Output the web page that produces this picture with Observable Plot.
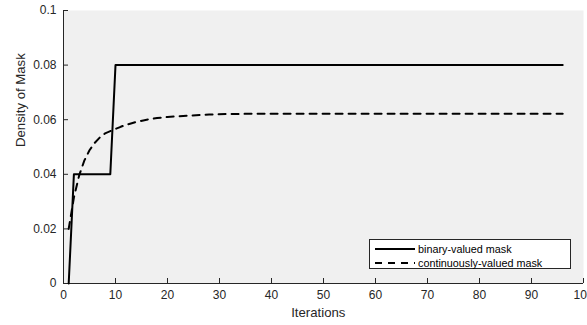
<!DOCTYPE html>
<html>
<head>
<meta charset="utf-8">
<script src="https://cdn.jsdelivr.net/npm/d3@7"></script>
<script src="https://cdn.jsdelivr.net/npm/@observablehq/plot@0.6"></script>
<style>
  html, body { margin: 0; padding: 0; background: #fff; }
  #wrap { position: relative; width: 587px; height: 325px; overflow: hidden; font-family: "Liberation Sans", Arial, sans-serif; }
  #legend { position: absolute; left: 369px; top: 239px; width: 200px; height: 28px; background: #fff; border: 1px solid #262626; font-size: 10.8px; color: #000; }
  .row { position: absolute; left: 0; height: 14px; display: flex; align-items: center; }
  .row svg { margin-left: 5px; margin-right: 3px; }
</style>
</head>
<body>
<div id="wrap"></div>
<script>
// binary-valued mask
const binaryIter = [1, 2, 9, 10, 96];
const binaryDensity = [0, 0.04, 0.04, 0.08, 0.08];

// continuously-valued mask
const contIter = [1, 2, 3, 4, 5, 6, 7, 8, 9, 10, 11, 12, 14, 16, 18, 20, 24, 28, 32, 40, 50, 60, 70, 80, 96];
const contDensity = [0.0200, 0.0315, 0.0395, 0.0450, 0.0488, 0.0515, 0.0535, 0.0550, 0.0558, 0.0566, 0.0574, 0.0581, 0.0592, 0.0600, 0.0606, 0.0610, 0.0615, 0.0619, 0.0621, 0.0622, 0.0622, 0.0622, 0.0622, 0.0622, 0.0622];

const xTicks = [0, 10, 20, 30, 40, 50, 60, 70, 80, 90, 100];
const yTicks = [0, 0.02, 0.04, 0.06, 0.08, 0.1];
const seriesNames = ["binary-valued mask", "continuously-valued mask"];

const binary = binaryIter.map((x, i) => ({x, y: binaryDensity[i]}));
const cont = contIter.map((x, i) => ({x, y: contDensity[i]}));

const axisColor = "#262626";
const fmt = d => d === 0 ? "0" : String(d);

const W = 587, H = 325, ML = 63, MR = 4, MT = 10, MB = 42, TICK = 5;

const chart = Plot.plot({
  width: W,
  height: H,
  marginLeft: ML,
  marginRight: MR,
  marginTop: MT,
  marginBottom: MB,
  style: {fontFamily: "'Liberation Sans', Arial, sans-serif", background: "#fff", overflow: "visible"},
  x: {domain: [0, 100], axis: null},
  y: {domain: [0, 0.1], axis: null},
  marks: [
    Plot.frame({fill: "#f0f0f0", stroke: null}),
    // tick marks (inward)
    Plot.tickX(xTicks, {x: d => d, stroke: axisColor, insetTop: H - MT - MB - TICK}),
    Plot.tickY(yTicks, {y: d => d, stroke: axisColor, insetRight: W - ML - MR - TICK}),
    // tick labels
    Plot.axisX(xTicks, {ticks: xTicks, tickSize: 0, tickPadding: 7, fontSize: 12, fill: axisColor, tickFormat: fmt, label: null}),
    Plot.axisY(yTicks, {ticks: yTicks, tickSize: 0, tickPadding: 7, fontSize: 12, fill: axisColor, tickFormat: fmt, label: null}),
    // axis lines
    Plot.ruleX([0], {stroke: axisColor, strokeWidth: 1}),
    Plot.ruleY([0], {stroke: axisColor, strokeWidth: 1}),
    // data
    Plot.line(cont, {x: "x", y: "y", stroke: "#000", strokeWidth: 2, strokeDasharray: "7,6"}),
    Plot.line(binary, {x: "x", y: "y", stroke: "#000", strokeWidth: 2}),
    // axis titles
    Plot.text(["Iterations"], {x: 49, frameAnchor: "bottom", dy: 33, fontSize: 13.2, fill: axisColor, text: d => d}),
    Plot.text(["Density of Mask"], {y: 0.05, frameAnchor: "left", dx: -43, rotate: -90, fontSize: 13.2, fill: axisColor, text: d => d})
  ]
});

const wrap = document.getElementById("wrap");
wrap.appendChild(chart);

// legend
const legend = document.createElement("div");
legend.id = "legend";
seriesNames.forEach((name, i) => {
  const row = document.createElement("div");
  row.className = "row";
  row.style.top = (i === 0 ? 2 : 16) + "px";
  const dash = i === 0 ? "" : ' stroke-dasharray="7,6"';
  row.innerHTML = `<svg width="40" height="6"><line x1="0" y1="3" x2="40" y2="3" stroke="#000" stroke-width="2"${dash}/></svg><span>${name}</span>`;
  legend.appendChild(row);
});
wrap.appendChild(legend);
</script>
</body>
</html>
